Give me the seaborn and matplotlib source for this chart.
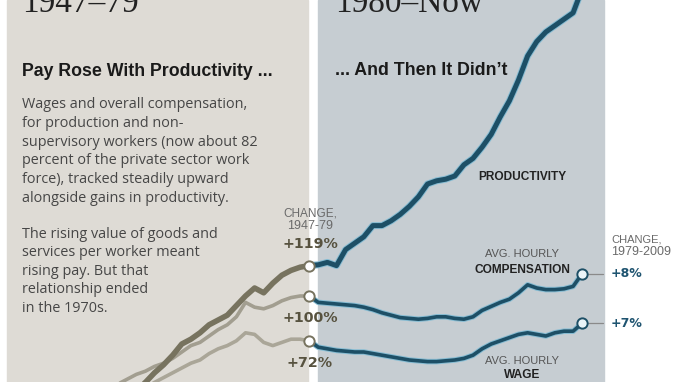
import pandas as pd
import matplotlib.pyplot as plt
import matplotlib.patheffects as pe
from matplotlib.patches import Rectangle
import seaborn as sns


# percent change since 1947
YEARS_EARLY = list(range(1947, 1980))
PROD_EARLY = [0, 4, 7, 12, 15, 18, 22, 24, 28, 29, 32, 35, 40, 42, 46, 52, 57,
              63, 70, 73, 77, 82, 85, 88, 94, 100, 105, 102, 108, 113, 116, 118, 119]
COMP_EARLY = [0, 4, 8, 12, 16, 20, 25, 29, 33, 37, 41, 45, 48, 51, 53, 56, 58,
              61, 65, 69, 71, 75, 79, 82, 87, 96, 93, 92, 94, 97, 99, 100, 100]
WAGE_EARLY = [0, 3, 6, 10, 13, 17, 21, 24, 27, 30, 33, 35, 38, 40, 43, 46, 49,
              52, 55, 58, 60, 64, 67, 69, 72, 77, 76, 71, 69, 71, 73, 73, 72]

YEARS_LATE = list(range(1979, 2010))
PROD_LATE = [119, 119.5, 121, 119, 129, 133, 137, 144, 144, 147, 151, 156, 162,
             170, 172, 173, 175, 182, 186, 193, 201, 212, 222, 235, 250, 259,
             265, 269, 273, 277, 292]
COMP_LATE = [100, 96, 95.5, 95, 94.5, 94, 93, 91.5, 89.5, 88, 86.5, 86, 85.5,
             86, 87, 87, 86, 85.5, 87, 91, 93.5, 96, 98, 102, 107, 105, 104,
             104, 104.5, 106, 114]
WAGE_LATE = [72, 68, 67, 66, 65.5, 65, 65, 64, 63, 62, 61, 60, 59.5, 59, 59,
             59.5, 60, 61, 63, 67, 70, 72, 74, 76, 77, 76, 75, 77, 78, 78, 83]

CHANGE_EARLY = ["+119%", "+100%", "+72%"]
CHANGE_LATE = ["+8%", "+7%"]

W, H = 680, 382
BEIGE = "#dedbd5"
BLUE_BG = "#c6cdd2"
TEAL = "#1d4f66"
HALO = "#86bcd3"
GREY_LINES = {"prod": ("#77735f", 4.0), "comp": ("#a29e90", 2.6), "wage": ("#aaa698", 2.6)}
SANS = ["Liberation Sans", "DejaVu Sans"]


def px(x, y):
    return x / W, 1 - y / H


def main():
    sns.set_theme(style="white")
    plt.rcParams["font.family"] = SANS

    fig = plt.figure(figsize=(6.8, 3.82), dpi=100)
    ax = fig.add_axes([0, 0, 1, 1])
    ax.set_xlim(1947 - 18 / 9.1, 1947 + (W - 18) / 9.1)
    ax.set_ylim((456 - H) / 1.6, 456 / 1.6)
    ax.set_axis_off()

    # background panels
    ax.add_patch(Rectangle(px(7, H), 301 / W, 1, transform=ax.transAxes,
                           color=BEIGE, zorder=0))
    ax.add_patch(Rectangle(px(318, H), 286 / W, 1, transform=ax.transAxes,
                           color=BLUE_BG, zorder=0))

    early = pd.DataFrame({"year": YEARS_EARLY, "prod": PROD_EARLY,
                          "comp": COMP_EARLY, "wage": WAGE_EARLY})
    late = pd.DataFrame({"year": YEARS_LATE, "prod": PROD_LATE,
                         "comp": COMP_LATE, "wage": WAGE_LATE})

    for key in ["wage", "comp", "prod"]:
        color, lw = GREY_LINES[key]
        sns.lineplot(data=early, x="year", y=key, ax=ax, color=color,
                     linewidth=lw, zorder=3)

    for key in ["wage", "comp", "prod"]:
        lw = 3.6 if key == "prod" else 2.6
        sns.lineplot(data=late, x="year", y=key, ax=ax, color=TEAL,
                     linewidth=lw, zorder=3,
                     path_effects=[pe.Stroke(linewidth=lw + 1.4, foreground=HALO),
                                   pe.Normal()])

    # markers at 1979 and 2009
    ax.scatter([1979] * 3, [PROD_EARLY[-1], COMP_EARLY[-1], WAGE_EARLY[-1]],
               s=55, facecolor="white", edgecolor="#77735f", linewidth=1.4, zorder=5)
    ax.scatter([2009] * 2, [COMP_LATE[-1], WAGE_LATE[-1]],
               s=55, facecolor="#eaf4f8", edgecolor=TEAL, linewidth=1.4, zorder=5)
    for v in [COMP_LATE[-1], WAGE_LATE[-1]]:
        ax.plot([2009.6, 2011.3], [v, v], color="#8a8a8a", linewidth=0.9, zorder=4)

    tr = ax.transAxes
    # headlines, clipped at the top as in the original crop
    ax.text(*px(22, 12), "1947\u201379", transform=tr, fontsize=24,
            family="Liberation Serif", color="#222222", va="baseline")
    ax.text(*px(335, 12), "1980\u2013Now", transform=tr, fontsize=24,
            family="Liberation Serif", color="#222222", va="baseline")

    ax.text(*px(22, 76), "Pay Rose With Productivity ...", transform=tr,
            fontsize=12.8, fontweight="bold", color="#1a1a1a", va="baseline")
    ax.text(*px(335, 75), "... And Then It Didn\u2019t", transform=tr,
            fontsize=12.8, fontweight="bold", color="#1a1a1a", va="baseline")

    para1 = ["Wages and overall compensation,",
             "for production and non-",
             "supervisory workers (now about 82",
             "percent of the private sector work",
             "force), tracked steadily upward",
             "alongside gains in productivity."]
    for i, line in enumerate(para1):
        ax.text(*px(22, 108 + i * 18.8), line, transform=tr, fontsize=10.4,
                family="Open Sans", color="#464646", va="baseline")
    para2 = ["The rising value of goods and",
             "services per worker meant",
             "rising pay. But that",
             "relationship ended",
             "in the 1970s."]
    for i, line in enumerate(para2):
        ax.text(*px(22, 238 + i * 18.4), line, transform=tr, fontsize=10.4,
                family="Open Sans", color="#464646", va="baseline")

    # 1947-79 change labels
    ax.text(*px(310, 217), "CHANGE,", transform=tr, fontsize=8.5,
            color="#6a6a6a", ha="center", va="baseline")
    ax.text(*px(310, 229), "1947-79", transform=tr, fontsize=9,
            color="#6a6a6a", ha="center", va="baseline")
    for label, y in zip(CHANGE_EARLY, [248, 322, 367]):
        ax.text(*px(310, y), label, transform=tr, fontsize=10.3,
                family="DejaVu Sans", fontweight="bold", color="#57523f",
                ha="center", va="baseline")

    # series labels
    ax.text(*px(522, 180), "PRODUCTIVITY", transform=tr, fontsize=8.6,
            fontweight="bold", color="#222222", ha="center", va="baseline")
    ax.text(*px(522, 257), "AVG. HOURLY", transform=tr, fontsize=8,
            color="#555555", ha="center", va="baseline")
    ax.text(*px(522, 273), "COMPENSATION", transform=tr, fontsize=8.6,
            fontweight="bold", color="#222222", ha="center", va="baseline")
    ax.text(*px(522, 364), "AVG. HOURLY", transform=tr, fontsize=8,
            color="#555555", ha="center", va="baseline")
    ax.text(*px(522, 378), "WAGE", transform=tr, fontsize=8.6,
            fontweight="bold", color="#222222", ha="center", va="baseline")

    # 1979-2009 change labels
    ax.text(*px(611, 243), "CHANGE,", transform=tr, fontsize=8,
            color="#6a6a6a", va="baseline")
    ax.text(*px(611, 255), "1979-2009", transform=tr, fontsize=9,
            color="#6a6a6a", va="baseline")
    for label, y in zip(CHANGE_LATE, [277, 327]):
        ax.text(*px(611, y), label, transform=tr, fontsize=9,
                family="DejaVu Sans", fontweight="bold", color="#1f5470",
                va="baseline")

    fig.savefig("out.png", dpi=100)
    plt.close(fig)


if __name__ == "__main__":
    main()
